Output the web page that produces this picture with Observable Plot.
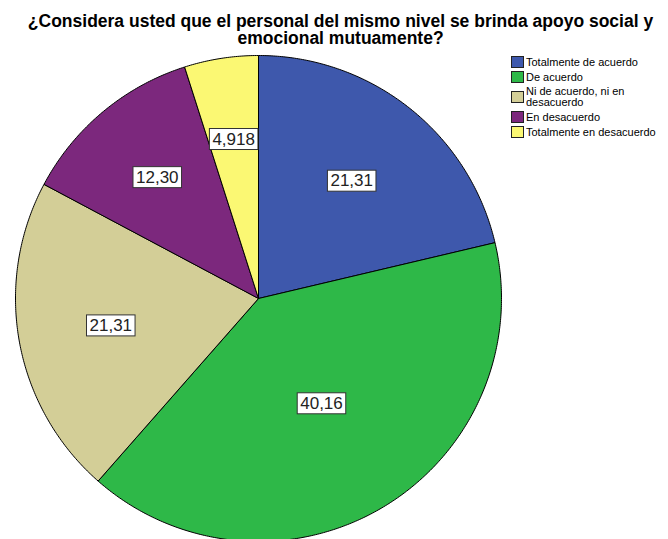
<!DOCTYPE html>
<html>
<head>
<meta charset="utf-8">
<script src="https://cdn.jsdelivr.net/npm/d3@7"></script>
<script src="https://cdn.jsdelivr.net/npm/@observablehq/plot@0.6"></script>
<style>
  html, body { margin: 0; padding: 0; background: #fff; }
  #wrap { position: relative; width: 668px; height: 539px; overflow: hidden; font-family: "Liberation Sans", Arial, sans-serif; }
  #title { position: absolute; left: 0; top: 13px; width: 681px; text-align: center; font-weight: bold; font-size: 17.5px; line-height: 17px; color: #000; white-space: nowrap; }
  #legend { position: absolute; left: 511px; top: 56px; font-size: 11px; line-height: 11px; color: #000; }
  .row { display: flex; align-items: center; margin-bottom: 3px; }
  .sw { width: 11px; height: 10px; border: 1px solid #222; margin-right: 2px; flex: none; }
  #chart { position: absolute; left: 0; top: 0; }
</style>
</head>
<body>
<div id="wrap">
  <div id="chart"></div>
  <div id="title">¿Considera usted que el personal del mismo nivel se brinda apoyo social y<br>emocional mutuamente?</div>
  <div id="legend"></div>
</div>
<script>
const categories = ["Totalmente de acuerdo", "De acuerdo", "Ni de acuerdo, ni en desacuerdo", "En desacuerdo", "Totalmente en desacuerdo"];
const legendLabels = ["Totalmente de acuerdo", "De acuerdo", "Ni de acuerdo, ni en<br>desacuerdo", "En desacuerdo", "Totalmente en desacuerdo"];
const values = [21.31, 40.16, 21.31, 12.30, 4.918];
const valueLabels = ["21,31", "40,16", "21,31", "12,30", "4,918"];
const colors = ["#3E58AC", "#2EB848", "#D3CE97", "#7C287D", "#FBF873"];

const W = 668, H = 539;
const cx = 258, cy = 298, R = 243;

const arcs = d3.pie().sort(null).startAngle(0).endAngle(2 * Math.PI)(values);

const poly = [];
const lbl = [];
arcs.forEach((a, i) => {
  const cat = categories[i];
  poly.push({cat, x: cx, y: cy});
  const n = Math.max(4, Math.ceil((a.endAngle - a.startAngle) / (Math.PI / 360)));
  for (let k = 0; k <= n; k++) {
    const t = a.startAngle + (a.endAngle - a.startAngle) * k / n;
    poly.push({cat, x: cx + R * Math.sin(t), y: cy - R * Math.cos(t)});
  }
  poly.push({cat, x: cx, y: cy});
  const th = a.endAngle - a.startAngle;
  const mid = (a.startAngle + a.endAngle) / 2;
  const d = Math.min(0.68 * R, 4 * R * Math.sin(th / 2) / (3 * th));
  lbl.push({cat, label: valueLabels[i], x: cx + d * Math.sin(mid), y: cy - d * Math.cos(mid)});
});

const chart = Plot.plot({
  width: W, height: H,
  margin: 0,
  x: {domain: [0, W], range: [0, W], axis: null},
  y: {domain: [0, H], range: [0, H], axis: null},
  color: {domain: categories, range: colors},
  style: {fontFamily: "'Liberation Sans', Arial, sans-serif", background: "transparent"},
  marks: [
    Plot.line(poly, {x: "x", y: "y", z: "cat", fill: "cat", stroke: "#000", strokeWidth: 1, strokeLinejoin: "round"}),
    Plot.text(lbl, {x: "x", y: "y", text: "label", fontSize: 17, fill: "#222", textAnchor: "middle", lineAnchor: "middle"})
  ]
});
document.getElementById("chart").appendChild(chart);

// white boxes behind the value labels
chart.querySelectorAll("g[aria-label='text'] text").forEach(t => {
  const b = t.getBBox();
  const r = document.createElementNS("http://www.w3.org/2000/svg", "rect");
  r.setAttribute("x", b.x - 3);
  r.setAttribute("y", b.y - 1);
  r.setAttribute("width", b.width + 6);
  r.setAttribute("height", b.height + 2);
  r.setAttribute("fill", "#fff");
  r.setAttribute("stroke", "#333");
  r.setAttribute("stroke-width", "1");
  if (t.getAttribute("transform")) r.setAttribute("transform", t.getAttribute("transform"));
  t.parentNode.insertBefore(r, t);
});

const leg = document.getElementById("legend");
categories.forEach((c, i) => {
  const row = document.createElement("div");
  row.className = "row";
  row.innerHTML = `<div class="sw" style="background:${colors[i]}"></div><div>${legendLabels[i]}</div>`;
  leg.appendChild(row);
});
</script>
</body>
</html>
